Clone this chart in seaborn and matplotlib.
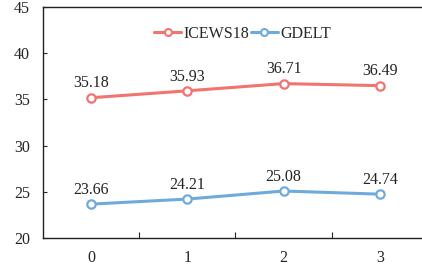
import pandas as pd
import seaborn as sns
import matplotlib.pyplot as plt
from matplotlib.lines import Line2D
from matplotlib.ticker import FixedLocator

# data
steps = [0, 1, 2, 3]
icews18 = [35.18, 35.93, 36.71, 36.49]
gdelt = [23.66, 24.21, 25.08, 24.74]
series_names = ['ICEWS18', 'GDELT']
colors = ['#F07470', '#6FAADC']

df = pd.DataFrame({
    'step': steps * 2,
    'value': icews18 + gdelt,
    'dataset': [series_names[0]] * 4 + [series_names[1]] * 4,
})

sns.set_style('white')
plt.rcParams['font.family'] = ['Liberation Serif', 'DejaVu Serif']
fs = 11.5

fig = plt.figure(figsize=(4.22, 2.71), dpi=100)
ax = fig.add_axes([0.102, 0.122, 0.912, 0.852])

sns.lineplot(data=df, x='step', y='value', hue='dataset', palette=colors,
             marker='o', markersize=6, markerfacecolor='white',
             markeredgewidth=1.6, linewidth=2.2, ax=ax, legend=False)
for line, c in zip(ax.lines, colors):
    line.set_markeredgecolor(c)

# value labels
for vals in [icews18, gdelt]:
    for x, v in zip(steps, vals):
        ax.annotate(f'{v:.2f}', (x, v), xytext=(0, 4.5), textcoords='offset points',
                    ha='center', va='bottom', fontsize=fs, color='#222222')

ax.set_xlim(-0.5, 3.5)
ax.set_ylim(20, 45)
ax.set_yticks([20, 25, 30, 35, 40, 45])
ax.set_xticks(steps)
ax.xaxis.set_minor_locator(FixedLocator([0.5, 1.5, 2.5]))
ax.tick_params(axis='x', which='major', length=0, pad=9, labelsize=fs, labelcolor='#222222')
ax.tick_params(axis='x', which='minor', direction='in', length=4, width=0.8, bottom=True)
ax.tick_params(axis='y', direction='in', length=3, width=0.8, left=True, labelsize=fs,
               pad=9.5, labelcolor='#222222')
ax.set_xlabel('')
ax.set_ylabel('')

for s in ['left', 'bottom', 'top']:
    ax.spines[s].set_color('#222222')
    ax.spines[s].set_linewidth(1.0)
ax.spines['right'].set_visible(False)

handles = [Line2D([], [], color=c, linewidth=2.2, marker='o', markersize=5,
                  markerfacecolor='white', markeredgecolor=c, markeredgewidth=1.5)
           for c in colors]
ax.legend(handles, series_names, loc='center', bbox_to_anchor=(0.518, 0.884), ncol=2,
          frameon=False, fontsize=fs, handlelength=1.7, handletextpad=0.12,
          columnspacing=0.12, borderpad=0, borderaxespad=0)

fig.savefig('out.png', dpi=100)
